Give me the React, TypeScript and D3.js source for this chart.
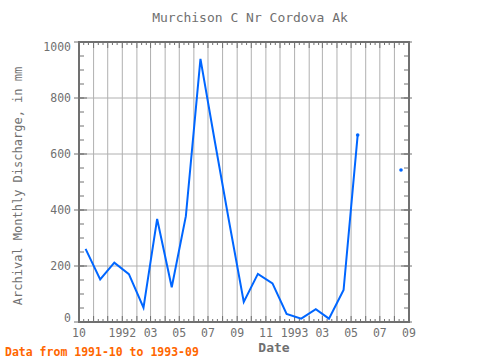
import React from "react";
import * as d3 from "d3";

const months = [
  "1991-10", "1991-11", "1991-12", "1992-01", "1992-02", "1992-03", "1992-04", "1992-05",
  "1992-06", "1992-07", "1992-08", "1992-09", "1992-10", "1992-11", "1992-12", "1993-01",
  "1993-02", "1993-03", "1993-04", "1993-05", "1993-06", "1993-07", "1993-08", "1993-09",
];
const discharge: (number | null)[] = [
  261, 152, 212, 171, 51, 368, 124, 378, 940, 650, 357, 72,
  172, 138, 29, 12, 46, 12, 114, 668, null, null, 543, null,
];
const yTicks = [0, 200, 400, 600, 800, 1000];
const xTickLabels = [
  { date: "1991-10", label: "10" },
  { date: "1992-01", label: "1992" },
  { date: "1992-03", label: "03" },
  { date: "1992-05", label: "05" },
  { date: "1992-07", label: "07" },
  { date: "1992-09", label: "09" },
  { date: "1992-11", label: "11" },
  { date: "1993-01", label: "1993" },
  { date: "1993-03", label: "03" },
  { date: "1993-05", label: "05" },
  { date: "1993-07", label: "07" },
  { date: "1993-09", label: "09" },
];

const W = 480, H = 360;
const L = 79, R = 409, T = 42, B = 322;
const FONT = "'DejaVu Sans Mono', 'Liberation Mono', monospace";
const AXIS = "#707070";
const GRID = "#b0b0b0";
const BLUE = "#0066ff";

const parseMonth = (s: string) => {
  const [y, m] = s.split("-").map(Number);
  return new Date(y, m - 1, 1);
};
const mid = (s: string) => {
  const [y, m] = s.split("-").map(Number);
  return new Date(y, m - 1, 15);
};

export default function App() {
  const x = d3.scaleTime().domain([parseMonth("1991-10"), parseMonth("1993-09")]).range([L, R]);
  const y = d3.scaleLinear().domain([0, 1000]).range([B, T]);

  const pts = months.map((m, i) => ({ d: mid(m), v: discharge[i] }));
  const line = d3
    .line<{ d: Date; v: number | null }>()
    .defined((p) => p.v != null)
    .x((p) => x(p.d))
    .y((p) => y(p.v as number));

  const monthTicks = d3.timeMonth.range(parseMonth("1991-10"), d3.timeMonth.offset(parseMonth("1993-09"), 1));
  const minorX: Date[] = [];
  monthTicks.forEach((m) => {
    [11, 21].forEach((day) => {
      const dd = new Date(m.getFullYear(), m.getMonth(), day);
      if (dd <= parseMonth("1993-09")) minorX.push(dd);
    });
  });
  const minorY = d3.range(0, 1001, 50);

  const edgePts = pts.filter((p, i) => p.v != null && (pts[i - 1]?.v == null || pts[i + 1]?.v == null) && i > 0);

  const labelShift = (t: number) => (t === 0 ? -4 : t === 1000 ? 5 : 0);

  return (
    <svg width={W} height={H} style={{ position: "absolute", left: 0, top: 0 }}>
      <rect width={W} height={H} fill="white" />
      <text x={250} y={22} textAnchor="middle" fontFamily={FONT} fontSize={13} fill={AXIS}>
        Murchison C Nr Cordova Ak
      </text>
      {/* grid */}
      {monthTicks.map((m, i) => (
        <line key={"gx" + i} x1={x(m)} x2={x(m)} y1={T} y2={B} stroke={GRID} strokeWidth={1} />
      ))}
      {yTicks.map((t) => (
        <line key={"gy" + t} x1={L} x2={R} y1={y(t)} y2={y(t)} stroke={GRID} strokeWidth={1} />
      ))}
      {/* minor ticks x */}
      {minorX.map((d, i) => (
        <g key={"mx" + i}>
          <line x1={x(d)} x2={x(d)} y1={B} y2={B - 3} stroke={AXIS} strokeWidth={1} />
          <line x1={x(d)} x2={x(d)} y1={T} y2={T + 3} stroke={AXIS} strokeWidth={1} />
        </g>
      ))}
      {monthTicks.map((m, i) => (
        <g key={"Mx" + i}>
          <line x1={x(m)} x2={x(m)} y1={B} y2={B - 6} stroke={AXIS} strokeWidth={1} />
          <line x1={x(m)} x2={x(m)} y1={T} y2={T + 6} stroke={AXIS} strokeWidth={1} />
        </g>
      ))}
      {minorY.map((t) => (
        <g key={"my" + t}>
          <line x1={L} x2={L + 5} y1={y(t)} y2={y(t)} stroke={AXIS} strokeWidth={1} />
          <line x1={R} x2={R - 5} y1={y(t)} y2={y(t)} stroke={AXIS} strokeWidth={1} />
        </g>
      ))}
      {yTicks.map((t) => (
        <g key={"My" + t}>
          <line x1={L - 5} x2={L + 8} y1={y(t)} y2={y(t)} stroke={AXIS} strokeWidth={1} />
          <line x1={R + 3} x2={R - 8} y1={y(t)} y2={y(t)} stroke={AXIS} strokeWidth={1} />
          <text x={71} y={y(t) + 4 + labelShift(t)} textAnchor="end" fontFamily={FONT} fontSize={11.5} fill={AXIS}>
            {t}
          </text>
        </g>
      ))}
      {/* frame */}
      <rect x={L} y={T} width={R - L} height={B - T} fill="none" stroke={AXIS} strokeWidth={2} />
      {/* data */}
      <defs>
        <clipPath id="plotclip">
          <rect x={L} y={T} width={R - L} height={B - T} />
        </clipPath>
      </defs>
      <g clipPath="url(#plotclip)">
        <path d={line(pts) || ""} fill="none" stroke={BLUE} strokeWidth={2} />
        {edgePts.map((p, i) => (
          <circle key={"e" + i} cx={x(p.d)} cy={y(p.v as number)} r={1.8} fill={BLUE} />
        ))}
      </g>
      {/* x tick labels */}
      {xTickLabels.map((t, i) => (
        <text key={"xl" + i} x={x(parseMonth(t.date))} y={337} textAnchor="middle" fontFamily={FONT} fontSize={11.5} fill={AXIS}>
          {t.label}
        </text>
      ))}
      <text x={274} y={352} textAnchor="middle" fontFamily={FONT} fontSize={13} fontWeight="bold" fill={AXIS}>
        Date
      </text>
      <text
        transform={`translate(22,${(T + B) / 2 + 4}) rotate(-90)`}
        textAnchor="middle"
        fontFamily={FONT}
        fontSize={12}
        fill={AXIS}
      >
        Archival Monthly Discharge, in mm
      </text>
      <text x={5} y={356} fontFamily={FONT} fontSize={11.5} fontWeight="bold" fill="#ff6600">
        Data from 1991-10 to 1993-09
      </text>
    </svg>
  );
}
